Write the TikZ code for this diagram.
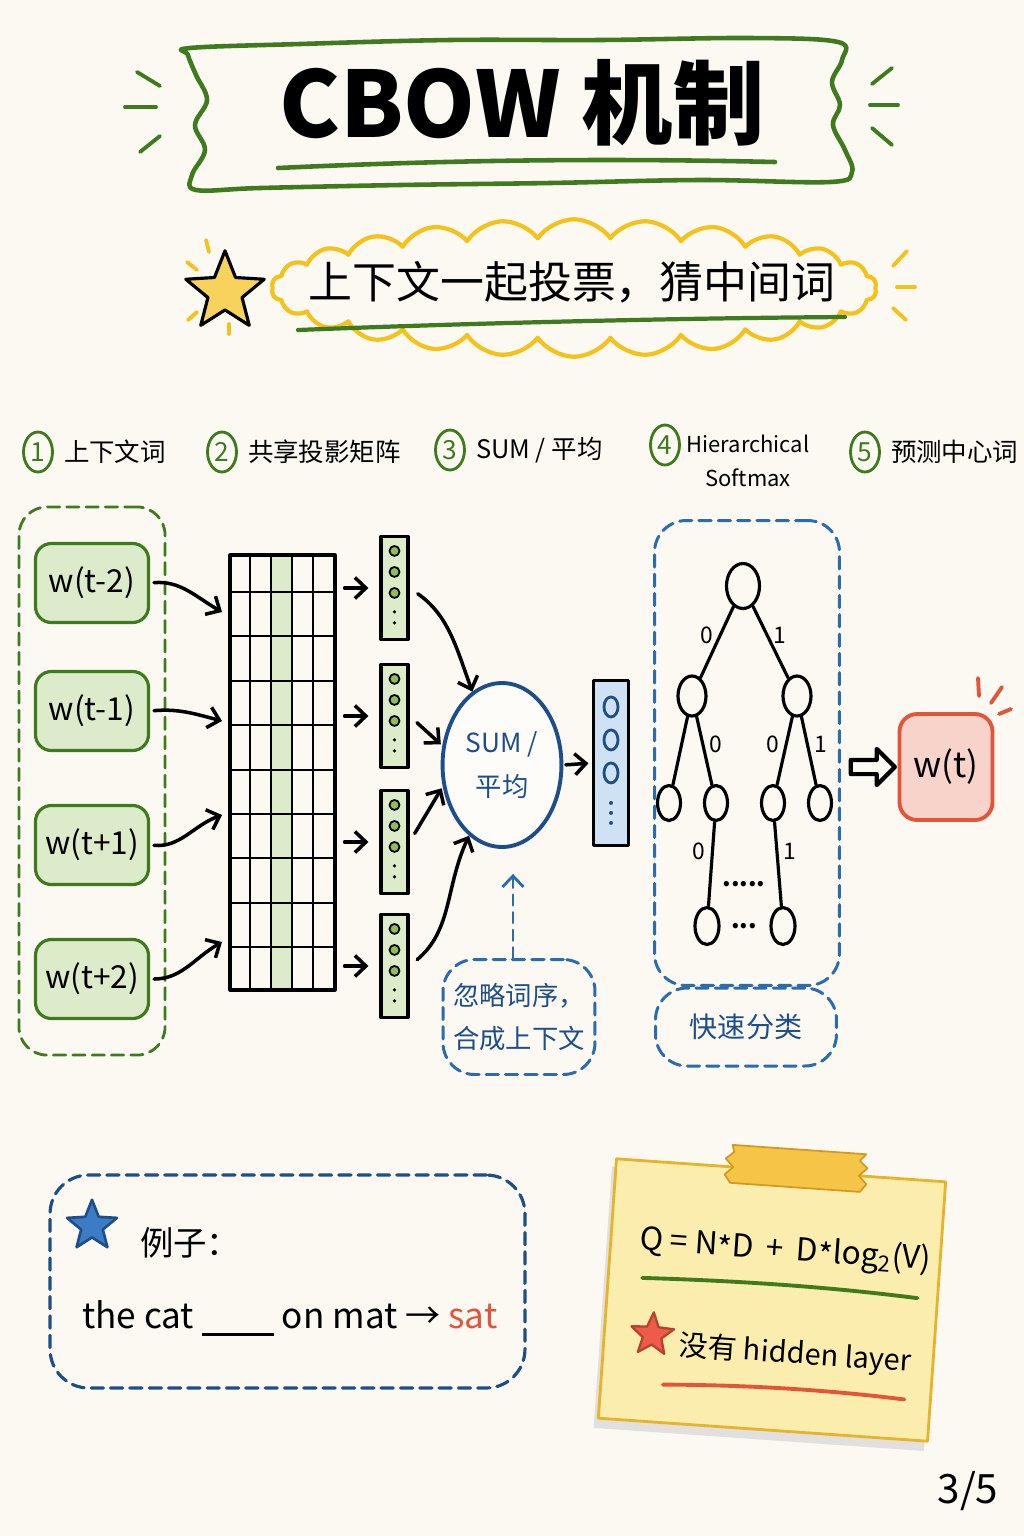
\documentclass[tikz,border=0pt]{standalone}
\usepackage{fontspec}
\setmainfont{Noto Sans CJK SC}
\usepackage{xcolor}
\usetikzlibrary{arrows.meta,positioning,fit,calc,shapes.geometric,shapes.symbols,shapes.arrows}
\definecolor{paper}{HTML}{FBF9F2}
\definecolor{leafgreen}{HTML}{3F7A1F}
\definecolor{ctxfill}{HTML}{DCEBC9}
\definecolor{dotgreen}{HTML}{8DBD5C}
\definecolor{skyblue}{HTML}{2C6BB0}
\definecolor{navy}{HTML}{1D4E89}
\definecolor{hfill}{HTML}{CFE2F3}
\definecolor{starblue}{HTML}{3C7CC4}
\definecolor{sungold}{HTML}{F5C21B}
\definecolor{starfill}{HTML}{F8D35C}
\definecolor{coral}{HTML}{E2553A}
\definecolor{wtfill}{HTML}{F8D3CA}
\definecolor{notefill}{HTML}{FBEDAE}
\definecolor{noteedge}{HTML}{E5B42A}
\definecolor{tapefill}{HTML}{F6C447}
\definecolor{tapeedge}{HTML}{D29A22}
\definecolor{starred}{HTML}{EE5B4B}
\newcommand\fsz[2]{\fontsize{#1}{#2}\selectfont}

\begin{document}
\begin{tikzpicture}[
  x=0.02cm, y=-0.02cm,
  line cap=round, line join=round,
  ctxword/.style={rectangle, rounded corners=9pt, draw=leafgreen, fill=ctxfill, line width=1.8pt,
    minimum width=2.26cm, minimum height=1.58cm, font=\fsz{18pt}{22pt}},
  ctxframe/.style={rectangle, rounded corners=16pt, draw=leafgreen, line width=1.6pt, dash pattern=on 7pt off 4pt},
  blueframe/.style={rectangle, rounded corners=18pt, draw=skyblue, line width=1.7pt, dash pattern=on 7pt off 4pt},
  vecbar/.style={rectangle, draw=black, fill=ctxfill, line width=1.8pt,
    minimum width=0.54cm, minimum height=2.06cm, inner sep=0pt},
  arr/.style={-{Straight Barb[length=2.2mm,width=4.2mm]}, line width=2pt},
  darr/.style={-{Straight Barb[length=2.2mm,width=4.2mm]}, line width=1.6pt, draw=skyblue, dash pattern=on 6pt off 4pt},
  numtag/.style={ellipse, draw=leafgreen, line width=1.6pt, minimum width=0.58cm, minimum height=0.8cm,
    inner sep=0pt, text=leafgreen, font=\fsz{15pt}{17pt}},
  hdr/.style={font=\fsz{14.5pt}{18pt}, inner sep=1pt, anchor=west},
  bnode/.style={ellipse, draw=black, line width=1.8pt, fill=paper, inner sep=0pt},
  tedge/.style={line width=1.8pt},
  bit/.style={font=\fsz{13pt}{15pt}, inner sep=3pt},
  spark/.style={line width=2.2pt, line cap=round},
  starshape/.style={star, star points=5, star point ratio=2.3, inner sep=0pt}
]
\fill[paper] (0,0) rectangle (1024,1536);
\useasboundingbox (0,0) rectangle (1024,1536);

% title banner
\draw[leafgreen, line width=2.6pt] plot[smooth cycle, tension=0.6] coordinates {
  (190,48) (300,44) (450,40) (600,40) (750,38) (838,42)
  (842,60) (832,82) (840,105) (833,125) (845,150) (852,172)
  (830,182) (700,180) (550,183) (400,185) (260,188) (196,190)
  (192,175) (205,150) (195,125) (207,100) (196,75) (188,55)};
\node[font=\fsz{52pt}{60pt}\bfseries] (title) at (522,103) {CBOW 机制};
\draw[leafgreen, line width=2.6pt] (278,168) .. controls (450,160) and (600,158) .. (775,162);
\draw[spark, leafgreen] (137,72) -- (160,86);
\draw[spark, leafgreen] (125,107) -- (156,107);
\draw[spark, leafgreen] (140,152) -- (160,136);
\draw[spark, leafgreen] (872,84) -- (892,68);
\draw[spark, leafgreen] (870,105) -- (898,105);
\draw[spark, leafgreen] (872,128) -- (892,145);

% slogan cloud
\node[cloud, cloud puffs=26, cloud puff arc=110, cloud ignores aspect, draw=sungold, line width=2.4pt,
  minimum width=12.1cm, minimum height=2.75cm] (cloudbg) at (574,288) {};
\node[font=\fsz{25pt}{30pt}] (motto) at (572,282) {上下文一起投票，猜中间词};
\draw[leafgreen, line width=2.4pt] (298,330) .. controls (500,322) and (700,318) .. (845,317);
\node[starshape, minimum size=1.65cm, fill=starfill, draw=black, line width=1.8pt] (ystar) at (225,292) {};
\draw[spark, sungold] (206,240) -- (209,252);
\draw[spark, sungold] (187,262) -- (197,270);
\draw[spark, sungold] (188,320) -- (197,312);
\draw[spark, sungold] (229,324) -- (229,334);
\draw[spark, sungold] (893,266) -- (907,251);
\draw[spark, sungold] (897,287) -- (915,287);
\draw[spark, sungold] (893,308) -- (906,320);

% step headers
\node[numtag] (n1) at (38,452) {1};
\node[hdr, right=0.16cm of n1] (h1) {上下文词};
\node[numtag] (n2) at (222,452) {2};
\node[hdr, right=0.16cm of n2] (h2) {共享投影矩阵};
\node[numtag] (n3) at (450,450) {3};
\node[hdr, right=0.16cm of n3] (h3) {SUM / 平均};
\node[numtag] (n4) at (665,445) {4};
\node[font=\fsz{12.5pt}{19pt}, align=center] (h4) at (748,461) {Hierarchical\\Softmax};
\node[numtag] (n5) at (865,452) {5};
\node[hdr, right=0.16cm of n5] (h5) {预测中心词};

% context words
\node[ctxword] (w1) at (92,583) {w(t-2)};
\node[ctxword] (w2) at (92,711) {w(t-1)};
\node[ctxword] (w3) at (92,845) {w(t+1)};
\node[ctxword] (w4) at (92,979) {w(t+2)};
\node[ctxframe, fit=(w1)(w4), inner xsep=0.3cm, inner ysep=0.7cm] (ctx) {};

% shared projection matrix
\fill[ctxfill] (271,555) rectangle (292,990);
\foreach \gx in {250,271,292,313}
  \draw[line width=1pt] (\gx,555) -- (\gx,990);
\foreach \gy in {592,636,681,725,770,814,858,903,947}
  \draw[line width=1pt] (230,\gy) -- (335,\gy);
\node[draw=black, line width=1.8pt, minimum width=2.1cm, minimum height=8.7cm, inner sep=0pt] (proj) at (282.5,772.5) {};

\coordinate (m1) at (222,612);
\coordinate (m2) at (222,721);
\coordinate (m3) at (222,815);
\coordinate (m4) at (222,942);
\draw[arr, shorten <=0.08cm] (w1.east) to[out=5, in=150] (m1);
\draw[arr, shorten <=0.08cm] (w2.east) to[out=5, in=165] (m2);
\draw[arr, shorten <=0.08cm] (w3.east) to[out=-5, in=200] (m3);
\draw[arr, shorten <=0.08cm] (w4.east) to[out=0, in=210] (m4);

% projected vectors
\foreach \i/\vy in {1/588,2/716,3/842,4/966} {
  \node[vecbar] (vec\i) at (394.5,\vy) {};
  \foreach \k in {0,1,2}
    \draw[fill=dotgreen, line width=1pt] ($(vec\i.north)+(0,16+21*\k)$) circle[radius=5];
  \fill ($(vec\i.north)+(0,77)$) circle[radius=1.8] ($(vec\i.north)+(0,88)$) circle[radius=1.8];
  \draw[arr, shorten <=0.16cm, shorten >=0.22cm] (proj.east |- vec\i) -- (vec\i.west);
}

% sum node
\node[ellipse, draw=navy, line width=2.2pt, fill=white!55!paper, minimum width=2.3cm, minimum height=3.28cm,
  align=center, text=navy, font=\fsz{15pt}{25pt}] (sum) at (502,765) {SUM /\\平均};
\draw[arr, shorten <=0.2cm] (vec1.east) to[out=-35, in=110] (sum.112);
\draw[arr, shorten <=0.2cm, shorten >=0.04cm] (vec2.east) -- (sum.162);
\draw[arr, shorten <=0.2cm, shorten >=0.04cm] (vec3.east) -- (sum.200);
\draw[arr, shorten <=0.2cm] (vec4.east) to[out=40, in=-115] (sum.245);

% hidden vector
\node[rectangle, draw=black, fill=hfill, line width=1.8pt, minimum width=0.7cm, minimum height=3.3cm,
  inner sep=0pt] (hvec) at (611,763) {};
\foreach \k in {0,1,2}
  \draw[navy, line width=1.6pt] ($(hvec.north)+(0,28+33*\k)$) ellipse[x radius=7, y radius=10];
\foreach \k in {0,1,2}
  \fill[navy] ($(hvec.north)+(0,124+10*\k)$) circle[radius=2];
\draw[arr, shorten <=0.05cm, shorten >=0.07cm] (sum.east) -- (hvec.west);

% note under sum
\node[blueframe, minimum width=3.04cm, minimum height=2.3cm, align=center, text=navy,
  font=\fsz{15pt}{25pt}] (order) at (519,1017) {忽略词序，\\合成上下文};
\draw[darr, shorten >=0.5cm] ([xshift=-0.12cm]order.north) -- ([xshift=-0.12cm]order.north |- sum.south);

% hierarchical softmax tree
\node[blueframe, minimum width=3.7cm, minimum height=9.3cm] (tree) at (747,753) {};
\node[blueframe, minimum width=3.62cm, minimum height=1.56cm, text=navy, font=\fsz{16pt}{20pt}] (fast) at (746,1027) {快速分类};
\node[bnode, minimum width=0.66cm, minimum height=0.9cm] (r) at (743,586) {};
\node[bnode, minimum width=0.56cm, minimum height=0.8cm] (a) at (692,696) {};
\node[bnode, minimum width=0.56cm, minimum height=0.8cm] (b) at (797,696) {};
\node[bnode, minimum width=0.46cm, minimum height=0.7cm] (aa) at (669,803) {};
\node[bnode, minimum width=0.46cm, minimum height=0.7cm] (ab) at (716,803) {};
\node[bnode, minimum width=0.46cm, minimum height=0.7cm] (ba) at (773,803) {};
\node[bnode, minimum width=0.46cm, minimum height=0.7cm] (bb) at (820,803) {};
\node[bnode, minimum width=0.48cm, minimum height=0.74cm] (abx) at (707,926) {};
\node[bnode, minimum width=0.48cm, minimum height=0.74cm] (bax) at (783,926) {};
\draw[tedge] (r) -- node[bit, left, pos=0.4] {0} (a);
\draw[tedge] (r) -- node[bit, right, pos=0.4] {1} (b);
\draw[tedge] (a) -- (aa);
\draw[tedge] (a) -- node[bit, right, pos=0.4] {0} (ab);
\draw[tedge] (b) -- node[bit, left, pos=0.4] {0} (ba);
\draw[tedge] (b) -- node[bit, right, pos=0.4] {1} (bb);
\draw[tedge] (ab) -- node[bit, left, pos=0.35] {0} (abx);
\draw[tedge] (ba) -- node[bit, right, pos=0.35] {1} (bax);
\node[font=\fsz{14pt}{16pt}\bfseries] (dots1) at (744,884) {.....};
\node[font=\fsz{14pt}{16pt}\bfseries] (dots2) at (744,926) {...};

% predicted word
\node[rectangle, rounded corners=10pt, draw=coral, fill=wtfill, line width=2.2pt, minimum width=1.86cm,
  minimum height=2.12cm, font=\fsz{20pt}{24pt}] (wt) at (946,767) {w(t)};
\node[single arrow, draw=black, fill=paper, line width=2.4pt, inner sep=0.1cm, minimum height=0.88cm,
  single arrow head extend=0.22cm, single arrow head indent=0cm]
  (toout) at ($(tree.east |- wt)!0.5!(wt.west)$) {};
\draw[spark, coral] (978,678) -- (979,696);
\draw[spark, coral] (991,703) -- (1002,687);
\draw[spark, coral] (999,714) -- (1011,709);

% example box
\node[rectangle, rounded corners=22pt, draw=navy, line width=1.8pt, dash pattern=on 7pt off 4pt,
  minimum width=9.5cm, minimum height=4.26cm] (ex) at (287.5,1281.5) {};
\node[starshape, minimum size=1.05cm, fill=starblue, draw=navy, line width=1.5pt] (bstar) at (92,1226) {};
\node[font=\fsz{19pt}{22pt}, anchor=west] (exhead) at (134,1243) {例子：};
\node[font=\fsz{20pt}{24pt}, anchor=west] (exline) at (76,1318)
  {the cat \rule[-4pt]{1.44cm}{1.4pt} on mat → \textcolor{coral}{sat}};

% sticky note
\begin{scope}[rotate around={-4:(772,1300)}, transform shape]
  \fill[black!16, opacity=0.7] (603,1178) rectangle (934,1440);
  \draw[fill=notefill, draw=noteedge, line width=1.6pt] (607,1170) rectangle (937,1430);
  \draw[fill=tapefill, draw=tapeedge, line width=1pt] (722,1148) -- (856,1148) -- (850,1155) -- (858,1162)
    -- (850,1170) -- (858,1178) -- (852,1186) -- (722,1186) -- (716,1178) -- (724,1170) -- (716,1162)
    -- (724,1155) -- cycle;
  \node[font=\fsz{18pt}{21pt}] (formula) at (782,1250) {Q = N\raisebox{-0.25ex}{*}D \,+\, D\raisebox{-0.25ex}{*}log\textsubscript{2}(V)};
  \draw[leafgreen, line width=2.2pt] (641,1287) .. controls (740,1283) and (830,1283) .. (917,1288);
  \node[starshape, minimum size=0.9cm, fill=starred, draw=coral!80!black, line width=1.3pt] (rstar) at (655,1343) {};
  \node[font=\fsz{16.5pt}{20pt}] (nohidden) at (799,1353) {没有 hidden layer};
  \draw[coral, line width=2.2pt] (669,1392) .. controls (760,1386) and (840,1386) .. (911,1390);
\end{scope}

\node[font=\fsz{23pt}{26pt}] (page) at (968,1491) {3/5};
\end{tikzpicture}
\end{document}
